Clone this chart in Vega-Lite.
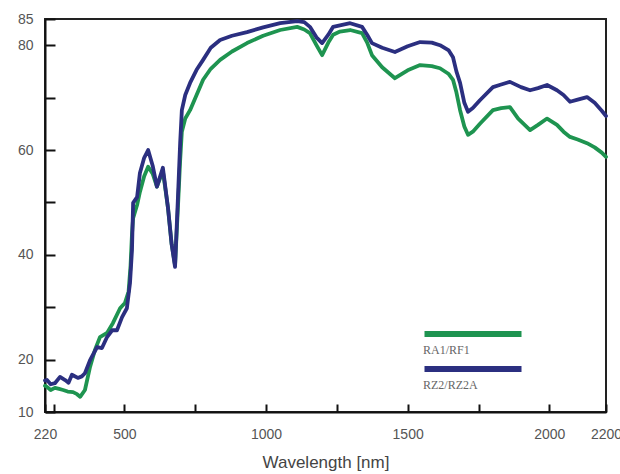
{
  "$schema": "https://vega.github.io/schema/vega-lite/v6.json",
  "width": 561,
  "height": 393,
  "autosize": {"type": "none"},
  "padding": {"left": 45, "top": 19, "right": 14, "bottom": 62},
  "background": "white",
  "view": {"stroke": "#222", "strokeWidth": 2},
  "config": {
    "font": "Liberation Sans",
    "axis": {"domainColor": "#111", "domainWidth": 2, "tickColor": "#111", "tickWidth": 2}
  },
  "data": {"values": [
    {"s":"RA1/RF1","nm":220,"r":15.0},{"s":"RA1/RF1","nm":227,"r":14.8},{"s":"RA1/RF1","nm":240,"r":14.2},{"s":"RA1/RF1","nm":255,"r":14.6},{"s":"RA1/RF1","nm":270,"r":14.4},{"s":"RA1/RF1","nm":284,"r":14.2},{"s":"RA1/RF1","nm":300,"r":13.9},{"s":"RA1/RF1","nm":319,"r":13.8},{"s":"RA1/RF1","nm":333,"r":13.4},{"s":"RA1/RF1","nm":344,"r":12.9},{"s":"RA1/RF1","nm":361,"r":14.2},{"s":"RA1/RF1","nm":379,"r":18.6},{"s":"RA1/RF1","nm":396,"r":21.8},{"s":"RA1/RF1","nm":414,"r":24.3},{"s":"RA1/RF1","nm":439,"r":25.1},{"s":"RA1/RF1","nm":460,"r":27},{"s":"RA1/RF1","nm":485,"r":29.8},{"s":"RA1/RF1","nm":502,"r":30.8},{"s":"RA1/RF1","nm":515,"r":33},{"s":"RA1/RF1","nm":522,"r":38},{"s":"RA1/RF1","nm":527,"r":44},{"s":"RA1/RF1","nm":531,"r":47},{"s":"RA1/RF1","nm":545,"r":49.5},{"s":"RA1/RF1","nm":555,"r":52},{"s":"RA1/RF1","nm":570,"r":55},{"s":"RA1/RF1","nm":584,"r":56.8},{"s":"RA1/RF1","nm":600,"r":55.5},{"s":"RA1/RF1","nm":615,"r":53},{"s":"RA1/RF1","nm":636,"r":56},{"s":"RA1/RF1","nm":654,"r":49},{"s":"RA1/RF1","nm":667,"r":42},{"s":"RA1/RF1","nm":679,"r":38},{"s":"RA1/RF1","nm":690,"r":50},{"s":"RA1/RF1","nm":697,"r":58},{"s":"RA1/RF1","nm":703,"r":63.5},{"s":"RA1/RF1","nm":715,"r":66},{"s":"RA1/RF1","nm":732,"r":67.6},{"s":"RA1/RF1","nm":755,"r":70.5},{"s":"RA1/RF1","nm":778,"r":73.4},{"s":"RA1/RF1","nm":805,"r":75.5},{"s":"RA1/RF1","nm":838,"r":77.2},{"s":"RA1/RF1","nm":880,"r":78.8},{"s":"RA1/RF1","nm":933,"r":80.4},{"s":"RA1/RF1","nm":990,"r":81.8},{"s":"RA1/RF1","nm":1050,"r":82.9},{"s":"RA1/RF1","nm":1110,"r":83.5},{"s":"RA1/RF1","nm":1135,"r":83},{"s":"RA1/RF1","nm":1155,"r":82.3},{"s":"RA1/RF1","nm":1178,"r":80},{"s":"RA1/RF1","nm":1198,"r":78.1},{"s":"RA1/RF1","nm":1220,"r":80.5},{"s":"RA1/RF1","nm":1237,"r":82},{"s":"RA1/RF1","nm":1261,"r":82.6},{"s":"RA1/RF1","nm":1297,"r":82.9},{"s":"RA1/RF1","nm":1339,"r":82.3},{"s":"RA1/RF1","nm":1357,"r":80.5},{"s":"RA1/RF1","nm":1374,"r":78.1},{"s":"RA1/RF1","nm":1410,"r":75.8},{"s":"RA1/RF1","nm":1455,"r":73.7},{"s":"RA1/RF1","nm":1500,"r":75.2},{"s":"RA1/RF1","nm":1544,"r":76.2},{"s":"RA1/RF1","nm":1585,"r":76},{"s":"RA1/RF1","nm":1614,"r":75.6},{"s":"RA1/RF1","nm":1645,"r":74.5},{"s":"RA1/RF1","nm":1660,"r":73.4},{"s":"RA1/RF1","nm":1672,"r":71},{"s":"RA1/RF1","nm":1685,"r":67.6},{"s":"RA1/RF1","nm":1700,"r":64.5},{"s":"RA1/RF1","nm":1713,"r":62.9},{"s":"RA1/RF1","nm":1730,"r":63.5},{"s":"RA1/RF1","nm":1755,"r":65},{"s":"RA1/RF1","nm":1801,"r":67.6},{"s":"RA1/RF1","nm":1830,"r":68},{"s":"RA1/RF1","nm":1861,"r":68.2},{"s":"RA1/RF1","nm":1890,"r":66},{"s":"RA1/RF1","nm":1932,"r":63.8},{"s":"RA1/RF1","nm":1960,"r":64.8},{"s":"RA1/RF1","nm":1992,"r":66},{"s":"RA1/RF1","nm":2027,"r":64.8},{"s":"RA1/RF1","nm":2050,"r":63.5},{"s":"RA1/RF1","nm":2073,"r":62.5},{"s":"RA1/RF1","nm":2100,"r":62},{"s":"RA1/RF1","nm":2133,"r":61.3},{"s":"RA1/RF1","nm":2160,"r":60.5},{"s":"RA1/RF1","nm":2185,"r":59.5},{"s":"RA1/RF1","nm":2200,"r":58.7},
    {"s":"RZ2/RZ2A","nm":220,"r":16.0},{"s":"RZ2/RZ2A","nm":227,"r":16.1},{"s":"RZ2/RZ2A","nm":240,"r":15.3},{"s":"RZ2/RZ2A","nm":255,"r":15.5},{"s":"RZ2/RZ2A","nm":273,"r":16.7},{"s":"RZ2/RZ2A","nm":291,"r":16.1},{"s":"RZ2/RZ2A","nm":303,"r":15.6},{"s":"RZ2/RZ2A","nm":315,"r":17.1},{"s":"RZ2/RZ2A","nm":336,"r":16.5},{"s":"RZ2/RZ2A","nm":350,"r":16.8},{"s":"RZ2/RZ2A","nm":361,"r":17.4},{"s":"RZ2/RZ2A","nm":379,"r":19.9},{"s":"RZ2/RZ2A","nm":404,"r":22.4},{"s":"RZ2/RZ2A","nm":421,"r":22.2},{"s":"RZ2/RZ2A","nm":439,"r":24.3},{"s":"RZ2/RZ2A","nm":457,"r":25.6},{"s":"RZ2/RZ2A","nm":474,"r":25.6},{"s":"RZ2/RZ2A","nm":492,"r":28.1},{"s":"RZ2/RZ2A","nm":509,"r":29.8},{"s":"RZ2/RZ2A","nm":520,"r":34.6},{"s":"RZ2/RZ2A","nm":527,"r":40.9},{"s":"RZ2/RZ2A","nm":531,"r":49.9},{"s":"RZ2/RZ2A","nm":545,"r":51},{"s":"RZ2/RZ2A","nm":555,"r":55.6},{"s":"RZ2/RZ2A","nm":570,"r":58.5},{"s":"RZ2/RZ2A","nm":584,"r":60},{"s":"RZ2/RZ2A","nm":600,"r":57},{"s":"RZ2/RZ2A","nm":615,"r":53},{"s":"RZ2/RZ2A","nm":636,"r":56.6},{"s":"RZ2/RZ2A","nm":654,"r":49},{"s":"RZ2/RZ2A","nm":667,"r":42},{"s":"RZ2/RZ2A","nm":679,"r":37.7},{"s":"RZ2/RZ2A","nm":690,"r":52},{"s":"RZ2/RZ2A","nm":697,"r":61.3},{"s":"RZ2/RZ2A","nm":703,"r":67.6},{"s":"RZ2/RZ2A","nm":715,"r":70.5},{"s":"RZ2/RZ2A","nm":732,"r":72.8},{"s":"RZ2/RZ2A","nm":755,"r":75.3},{"s":"RZ2/RZ2A","nm":778,"r":77.2},{"s":"RZ2/RZ2A","nm":805,"r":79.5},{"s":"RZ2/RZ2A","nm":838,"r":81},{"s":"RZ2/RZ2A","nm":880,"r":81.8},{"s":"RZ2/RZ2A","nm":933,"r":82.5},{"s":"RZ2/RZ2A","nm":990,"r":83.4},{"s":"RZ2/RZ2A","nm":1050,"r":84.2},{"s":"RZ2/RZ2A","nm":1110,"r":84.6},{"s":"RZ2/RZ2A","nm":1135,"r":84.4},{"s":"RZ2/RZ2A","nm":1155,"r":83.5},{"s":"RZ2/RZ2A","nm":1178,"r":81.5},{"s":"RZ2/RZ2A","nm":1198,"r":80.4},{"s":"RZ2/RZ2A","nm":1220,"r":82},{"s":"RZ2/RZ2A","nm":1237,"r":83.5},{"s":"RZ2/RZ2A","nm":1261,"r":83.8},{"s":"RZ2/RZ2A","nm":1297,"r":84.2},{"s":"RZ2/RZ2A","nm":1339,"r":83.5},{"s":"RZ2/RZ2A","nm":1357,"r":82},{"s":"RZ2/RZ2A","nm":1374,"r":80.4},{"s":"RZ2/RZ2A","nm":1410,"r":79.5},{"s":"RZ2/RZ2A","nm":1455,"r":78.7},{"s":"RZ2/RZ2A","nm":1500,"r":79.8},{"s":"RZ2/RZ2A","nm":1544,"r":80.6},{"s":"RZ2/RZ2A","nm":1585,"r":80.5},{"s":"RZ2/RZ2A","nm":1614,"r":80},{"s":"RZ2/RZ2A","nm":1645,"r":79},{"s":"RZ2/RZ2A","nm":1660,"r":77.7},{"s":"RZ2/RZ2A","nm":1672,"r":75},{"s":"RZ2/RZ2A","nm":1685,"r":72.8},{"s":"RZ2/RZ2A","nm":1700,"r":69},{"s":"RZ2/RZ2A","nm":1713,"r":67.3},{"s":"RZ2/RZ2A","nm":1730,"r":68},{"s":"RZ2/RZ2A","nm":1755,"r":69.5},{"s":"RZ2/RZ2A","nm":1801,"r":72},{"s":"RZ2/RZ2A","nm":1830,"r":72.5},{"s":"RZ2/RZ2A","nm":1861,"r":73},{"s":"RZ2/RZ2A","nm":1900,"r":72},{"s":"RZ2/RZ2A","nm":1932,"r":71.4},{"s":"RZ2/RZ2A","nm":1960,"r":71.8},{"s":"RZ2/RZ2A","nm":1992,"r":72.4},{"s":"RZ2/RZ2A","nm":2027,"r":71.4},{"s":"RZ2/RZ2A","nm":2050,"r":70.5},{"s":"RZ2/RZ2A","nm":2073,"r":69.2},{"s":"RZ2/RZ2A","nm":2100,"r":69.6},{"s":"RZ2/RZ2A","nm":2133,"r":70.1},{"s":"RZ2/RZ2A","nm":2160,"r":69},{"s":"RZ2/RZ2A","nm":2185,"r":67.5},{"s":"RZ2/RZ2A","nm":2200,"r":66.5}
  ]},
  "mark": {"type": "line", "strokeWidth": 3.8, "strokeJoin": "round", "strokeCap": "round"},
  "encoding": {
    "x": {
      "field": "nm", "type": "quantitative",
      "scale": {"domain": [220, 2200], "nice": false, "zero": false},
      "axis": {
        "title": "Wavelength [nm]",
        "titleFont": "Liberation Sans", "titleFontSize": 17, "titleFontWeight": "normal", "titleColor": "#444", "titlePadding": 13,
        "values": [220, 250, 500, 750, 1000, 1250, 1500, 1750, 2000, 2200],
        "labelExpr": "indexof([220,500,1000,1500,2000,2200], datum.value) >= 0 ? datum.value : ''",
        "labelFont": "Liberation Sans", "labelFontSize": 14, "labelColor": "#555", "labelPadding": 23,
        "labelOverlap": false, "labelFlush": false, "labelBound": false,
        "tickSize": -8,
        "grid": false
      }
    },
    "y": {
      "field": "r", "type": "quantitative",
      "scale": {"domain": [10, 85], "nice": false, "zero": false},
      "axis": {
        "title": null,
        "values": [10, 20, 30, 40, 50, 60, 70, 80, 85],
        "labelExpr": "indexof([10,20,40,60,80,85], datum.value) >= 0 ? datum.value : ''",
        "labelFont": "Liberation Sans", "labelFontSize": 14, "labelColor": "#555", "labelPadding": 22,
        "labelOverlap": false, "labelFlush": false, "labelBound": false,
        "tickSize": -10,
        "grid": false
      }
    },
    "color": {
      "field": "s", "type": "nominal",
      "scale": {"domain": ["RA1/RF1", "RZ2/RZ2A"], "range": ["#1e9450", "#2b2f80"]},
      "legend": {
        "orient": "none", "legendX": 415, "legendY": 302,
        "title": null, "padding": 0,
        "symbolType": "M-4.85,0H4.85", "symbolSize": 400, "symbolStrokeWidth": 6,
        "labelFont": "Liberation Serif", "labelFontSize": 12, "labelColor": "#666",
        "labelOffset": -63, "rowPadding": 0,
        "encode": {
          "labels": {"update": {"dy": {"value": 16}}},
          "symbols": {"enter": {"stroke": {"signal": "datum.value === 'RA1/RF1' ? '#1f9d5e' : '#2b58a6'"}}, "update": {"stroke": {"signal": "datum.value === 'RA1/RF1' ? '#1f9d5e' : '#2b58a6'"}}}
        }
      }
    }
  }
}
